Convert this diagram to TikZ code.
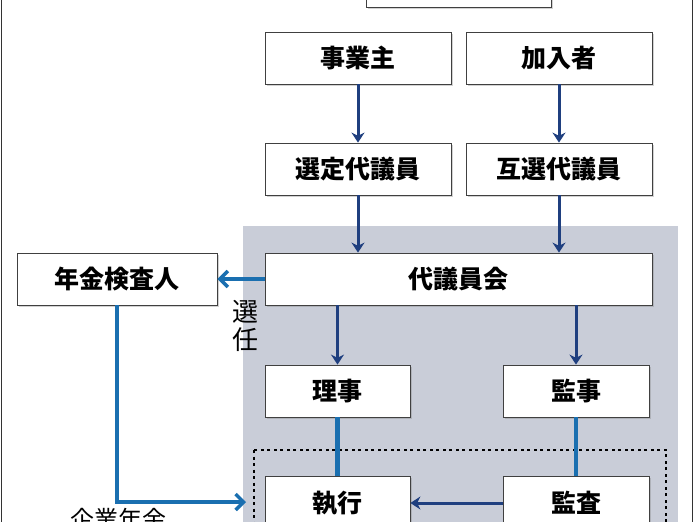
\documentclass[tikz,border=0pt]{standalone}
\usepackage{fontspec}
\setmainfont{Noto Sans CJK JP}
\usetikzlibrary{arrows.meta,shadows}
\definecolor{dk}{HTML}{1F3F7F}
\definecolor{lb}{HTML}{1A6FB0}
\definecolor{gr}{HTML}{C9CDD8}
\begin{document}
\begin{tikzpicture}[x=1pt,y=-1pt,
 bx/.style={draw=black!75,line width=0.8pt,fill=white,drop shadow={shadow xshift=1.5pt,shadow yshift=-1.5pt,opacity=0.35},font=\fontsize{25}{28}\selectfont\bfseries,inner sep=0pt},
 da/.style={draw=dk,line width=3pt,-{Stealth[length=10pt,width=13pt]}},
 la/.style={draw=lb,line width=4.5pt},
 lah/.style={la,-{Straight Barb[length=8pt,width=16pt,line width=3.5pt]}}]
\useasboundingbox (0,0) rectangle (696,522);
\clip (0,0) rectangle (696,522);
\fill[white] (0,0) rectangle (696,522);
\draw[black!80,line width=1pt] (1,-5) -- (1,530) (692,-5) -- (692,530);
\fill[gr] (243,226) rectangle (678,540);
\draw[black,line width=2.5pt,dash pattern=on 3pt off 3.5pt] (254,450) rectangle (666,540);
\node[bx,minimum width=185pt,minimum height=40pt] (top) at (458.5,-13) {};
\node[bx,minimum width=186pt,minimum height=52pt] (jg) at (358,58) {事業主};
\node[bx,minimum width=186pt,minimum height=52pt] (kn) at (559,58) {加入者};
\node[bx,minimum width=186pt,minimum height=52pt] (sd) at (358,169) {選定代議員};
\node[bx,minimum width=186pt,minimum height=52pt] (gd) at (559,169) {互選代議員};
\node[bx,minimum width=387pt,minimum height=52pt] (dg) at (458.5,279) {代議員会};
\node[bx,minimum width=200pt,minimum height=52pt] (nk) at (117,279) {年金検査人};
\node[bx,minimum width=145pt,minimum height=52pt] (rj) at (337.5,391) {理事};
\node[bx,minimum width=146pt,minimum height=52pt] (kj) at (576,391) {監事};
\node[bx,minimum width=145pt,minimum height=54pt] (sk) at (337.5,503) {執行};
\node[bx,minimum width=146pt,minimum height=54pt] (ks) at (576,503) {監査};
\draw[da] (jg.south) -- (sd.north);
\draw[da] (kn.south) -- (gd.north);
\draw[da] (sd.south) -- (sd.south|-dg.north);
\draw[da] (gd.south) -- (gd.south|-dg.north);
\draw[da] (dg.south-|rj.north) -- (rj.north);
\draw[da] (dg.south-|kj.north) -- (kj.north);
\draw[la] (rj.south) -- (sk.north);
\draw[la] (kj.south) -- (ks.north);
\draw[da] (ks.west) -- (sk.east);
\draw[lah] (dg.west) -- (nk.east);
\coordinate (c1) at (117,502);
\draw[lah] (nk.south) -- (c1) -- (246,502);
\node[font=\fontsize{26}{28}\selectfont,align=center,inner sep=0pt] (sn) at (245,326) {選\\任};
\node[font=\fontsize{24}{26}\selectfont,inner sep=0pt,anchor=north] (kg) at (118,508) {企業年金};
\end{tikzpicture}
\end{document}
